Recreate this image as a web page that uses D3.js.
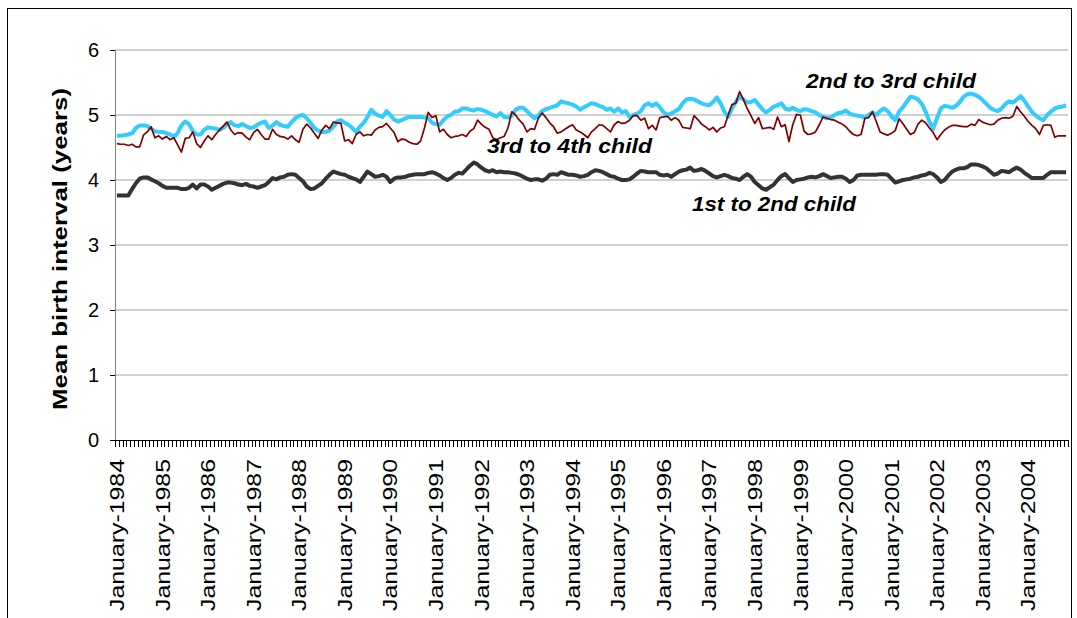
<!DOCTYPE html>
<html>
<head>
<meta charset="utf-8">
<script src="https://cdn.jsdelivr.net/npm/d3@7"></script>
<style>
  html, body { margin: 0; padding: 0; background: #fff; }
  svg { display: block; }
  text { font-family: Arial, "Liberation Sans", sans-serif; }
</style>
</head>
<body>
<svg id="chart" width="1077" height="618"></svg>
<script>
// ---------------- DATA ----------------
const monthNames = ["January","February","March","April","May","June","July","August","September","October","November","December"];
const years = [1984,1985,1986,1987,1988,1989,1990,1991,1992,1993,1994,1995,1996,1997,1998,1999,2000,2001,2002,2003,2004];
const lastMonthIndex2004 = 10; // series end: November 2004

const tickLabels = ["January-1984","January-1985","January-1986","January-1987","January-1988","January-1989","January-1990","January-1991","January-1992","January-1993","January-1994","January-1995","January-1996","January-1997","January-1998","January-1999","January-2000","January-2001","January-2002","January-2003","January-2004"];

const yTicks = [0,1,2,3,4,5,6];

const firstToSecond = [
3.76,3.76,3.76,3.76,3.86,3.95,4.02,4.04,4.04,4.01, 3.98,3.95,3.91,3.88,3.88,3.88,3.88,3.86,3.86,3.88,
3.93,3.87,3.93,3.93,3.90,3.85,3.88,3.91,3.94,3.96, 3.96,3.95,3.93,3.92,3.94,3.91,3.90,3.88,3.90,3.92,
3.97,4.03,4.01,4.04,4.05,4.08,4.09,4.08,4.03,3.98,
3.90,3.86,3.87,3.91,3.95,4.02,4.08,4.13,4.11,4.09, 4.08,4.05,4.03,4.01,3.97,4.05,4.13,4.09,4.05,4.06,
4.08,4.05,3.97,4.02,4.04,4.04,4.05,4.07,4.08,4.09, 4.09,4.09,4.11,4.12,4.10,4.07,4.03,4.00,4.03,4.08,
4.11,4.10,4.16,4.22,4.27,4.24,4.19,4.15,4.13,4.15, 4.12,
4.13,4.12,4.12,4.11,4.10,4.08,4.05,4.02,4.00, 4.01,4.01,3.99,4.02,4.08,4.09,4.08,4.12,4.10,4.08,
4.08,4.07,4.05,4.06,4.08,4.12,4.15,4.14,4.12,4.09, 4.06,4.05,4.02,4.00,4.00,4.01,4.05,4.10,4.14,4.13,
4.12,4.12,4.12,4.08,4.07,4.08,4.05,4.09,4.13,4.15, 4.16,
4.19,4.14,4.15,4.17,4.14,4.10,4.06,4.04,4.06, 4.08,4.06,4.03,4.02,4.00,4.05,4.09,4.05,3.97,3.92,
3.87,3.85,3.89,3.93,4.00,4.06,4.09,4.03,3.97,4.00, 4.01,4.02,4.04,4.05,4.04,4.06,4.09,4.06,4.03,4.04,
4.05,4.05,4.02,3.97,4.00,4.07,4.08,4.08,4.08,4.08, 4.08,
4.09,4.09,4.08,4.02,3.96,3.98,4.00,4.01,4.02, 4.04,4.05,4.07,4.08,4.11,4.09,4.04,3.97,4.00,4.07,
4.13,4.16,4.18,4.18,4.20,4.24,4.24,4.23,4.21,4.18, 4.13,4.08,4.10,4.14,4.13,4.12,4.16,4.19,4.16,4.11,
4.07,4.03,4.03,4.03,4.03,4.08,4.12,4.12,4.12,4.12, 4.12
];

const secondToThird = [
4.68,4.68,4.69,4.70,4.72,4.80,4.84,4.84,4.83,4.79, 4.75,4.74,4.74,4.72,4.70,4.67,4.72,4.84,4.90,4.86,
4.75,4.70,4.70,4.77,4.81,4.80,4.79,4.77,4.80,4.86, 4.89,4.84,4.83,4.86,4.83,4.80,4.81,4.85,4.88,4.90,
4.80,4.84,4.89,4.85,4.83,4.82,4.89,4.95,4.99,5.00,
4.95,4.88,4.80,4.76,4.74,4.74,4.76,4.82,4.90,4.92, 4.88,4.85,4.80,4.74,4.82,4.88,4.97,5.08,5.02,4.99,
4.97,5.06,5.00,4.93,4.90,4.92,4.95,4.97,4.97,4.97, 4.97,4.96,4.95,4.88,4.86,4.85,4.92,4.98,5.00,5.05,
5.06,5.10,5.10,5.08,5.07,5.09,5.08,5.06,5.03,5.00, 4.98,
5.03,4.97,4.96,4.99,5.08,5.11,5.11,5.06,5.00, 4.95,4.99,5.06,5.09,5.11,5.13,5.15,5.21,5.19,5.18,
5.16,5.13,5.08,5.12,5.15,5.18,5.17,5.14,5.12,5.08, 5.10,5.05,5.10,5.04,5.06,4.97,5.00,5.02,5.06,5.15,
5.18,5.14,5.18,5.12,5.04,5.00,5.02,5.06,5.09,5.18, 5.24,
5.25,5.24,5.21,5.18,5.16,5.15,5.20,5.27,5.18, 5.05,4.97,5.10,5.20,5.28,5.24,5.19,5.20,5.23,5.16,
5.09,5.04,5.08,5.13,5.15,5.18,5.10,5.08,5.11,5.08, 5.06,5.09,5.08,5.06,5.04,5.00,4.97,4.95,4.96,5.00,
5.03,5.04,5.07,5.02,5.00,4.99,4.98,4.96,5.00,5.04, 5.00,
5.06,5.10,5.06,4.98,4.92,5.05,5.12,5.20,5.28, 5.27,5.24,5.17,5.05,4.90,4.79,4.95,5.10,5.14,5.13,
5.11,5.14,5.20,5.28,5.32,5.33,5.31,5.28,5.23,5.17, 5.11,5.08,5.06,5.10,5.17,5.21,5.19,5.24,5.29,5.22,
5.13,5.05,4.99,4.95,4.92,5.00,5.05,5.10,5.12,5.13, 5.15
];

const thirdToFourth = [
4.56,4.55,4.55,4.53,4.55,4.51,4.51,4.69,4.74,4.82, 4.65,4.68,4.63,4.67,4.62,4.65,4.54,4.43,4.64,4.65,
4.74,4.56,4.50,4.60,4.68,4.62,4.70,4.77,4.83,4.89, 4.77,4.70,4.73,4.72,4.66,4.62,4.73,4.78,4.70,4.63,
4.63,4.78,4.70,4.67,4.66,4.63,4.68,4.62,4.58,4.78,
4.86,4.80,4.72,4.64,4.77,4.84,4.79,4.89,4.88,4.87, 4.60,4.62,4.56,4.70,4.74,4.68,4.70,4.69,4.77,4.81,
4.82,4.87,4.80,4.73,4.59,4.63,4.62,4.58,4.56,4.55, 4.60,4.80,5.04,4.96,4.99,4.74,4.78,4.70,4.65,4.67,
4.68,4.70,4.67,4.75,4.79,4.92,4.86,4.81,4.78,4.65, 4.62,
4.65,4.67,4.80,5.05,5.00,4.92,4.86,4.74,4.79, 4.78,4.95,5.03,4.96,4.88,4.82,4.72,4.74,4.78,4.82,
4.85,4.77,4.74,4.70,4.65,4.74,4.79,4.85,4.84,4.79, 4.74,4.85,4.90,4.87,4.88,4.92,4.99,4.99,4.92,4.95,
4.79,4.84,4.77,4.96,4.97,4.98,4.92,4.96,4.92,4.81, 4.80,
4.79,4.99,4.93,4.86,4.82,4.77,4.81,4.74,4.80, 4.82,5.00,5.16,5.18,5.36,5.24,5.10,4.99,4.87,4.96,
4.79,4.80,4.81,4.78,4.97,4.82,4.85,4.59,4.85,5.01, 5.00,4.75,4.70,4.71,4.74,4.85,4.97,4.95,4.93,4.92,
4.89,4.86,4.82,4.75,4.70,4.68,4.70,4.95,4.96,5.05, 4.90,
4.74,4.71,4.69,4.72,4.76,4.94,4.87,4.78,4.70, 4.73,4.86,4.92,4.88,4.80,4.73,4.62,4.70,4.77,4.81,
4.84,4.84,4.83,4.82,4.82,4.86,4.84,4.93,4.89,4.87, 4.85,4.86,4.92,4.95,4.96,4.95,4.98,5.13,5.05,4.98,
4.90,4.84,4.79,4.70,4.84,4.85,4.84,4.66,4.68,4.68, 4.68
];

const seriesNames = ["1st to 2nd child", "2nd to 3rd child", "3rd to 4th child"];
const seriesColors = ["#333333", "#33ccff", "#800000"];

// categories (month-year)
const categories = [];
years.forEach(yr => monthNames.forEach((m, mi) => {
  if (yr < 2004 || mi <= lastMonthIndex2004) categories.push(m + "-" + yr);
}));

// ---------------- CHART ----------------
const svg = d3.select("#chart");
const plot = {left: 115, right: 1068, top: 50, bottom: 440};

// outer frame
svg.append("rect").attr("x", 7.5).attr("y", 8.5).attr("width", 1064).attr("height", 700)
  .attr("fill", "#fff").attr("stroke", "#000").attr("stroke-width", 1);

const x = d3.scaleBand().domain(categories).range([plot.left, plot.right]).padding(0);
const y = d3.scaleLinear().domain([0, 6]).range([plot.bottom, plot.top]);
const cx = c => x(c) + x.bandwidth() / 2;

// gridlines
svg.append("g").selectAll("line").data(yTicks.filter(d => d > 0)).join("line")
  .attr("x1", plot.left).attr("x2", plot.right)
  .attr("y1", d => y(d)).attr("y2", d => y(d))
  .attr("stroke", "#c0c0c0").attr("stroke-width", 1.6);

// y axis
const yAxis = svg.append("g").attr("transform", `translate(${plot.left},0)`)
  .call(d3.axisLeft(y).tickValues(yTicks).tickSize(5).tickPadding(11).tickFormat(d3.format("d")));
yAxis.select(".domain").attr("stroke", "#808080");
yAxis.selectAll(".tick line").attr("stroke", "#000");
yAxis.selectAll("text").attr("font-size", 20).attr("fill", "#000")
  .attr("font-family", "Arial, 'Liberation Sans', sans-serif");

// x axis line + monthly ticks at category boundaries
const xg = svg.append("g");
xg.append("line").attr("x1", plot.left).attr("x2", plot.right)
  .attr("y1", plot.bottom + 0.5).attr("y2", plot.bottom + 0.5).attr("stroke", "#000");
const boundaries = categories.map(c => x(c)).concat([plot.right]);
xg.selectAll("line.mt").data(boundaries).join("line").attr("class", "mt")
  .attr("x1", d => Math.round(d) + 0.5).attr("x2", d => Math.round(d) + 0.5)
  .attr("y1", plot.bottom).attr("y2", plot.bottom + 7)
  .attr("stroke", "#000").attr("stroke-width", 1);

// x labels
const labelG = svg.append("g").attr("transform", `translate(0,${plot.bottom})`)
  .call(d3.axisBottom(x).tickValues(tickLabels).tickSize(0).tickPadding(0));
labelG.select(".domain").remove();
labelG.selectAll(".tick text")
  .attr("font-size", 20).attr("fill", "#000")
  .attr("font-family", "Arial, 'Liberation Sans', sans-serif")
  .attr("text-anchor", "end")
  .attr("transform", "translate(0,19) rotate(-90)")
  .attr("x", 0).attr("y", 0).attr("dy", "0.36em")
  .attr("textLength", 152).attr("lengthAdjust", "spacingAndGlyphs");

// y axis title
svg.append("text")
  .attr("transform", "translate(67,249) rotate(-90)")
  .attr("text-anchor", "middle")
  .attr("font-size", 21).attr("font-weight", "bold").attr("fill", "#000")
  .attr("textLength", 322).attr("lengthAdjust", "spacingAndGlyphs")
  .text("Mean birth interval (years)");

// lines
const allSeries = [firstToSecond, secondToThird, thirdToFourth];
const widths = [4, 4, 1.7];
const line = d3.line().x((d, i) => cx(categories[i])).y(d => y(d));
allSeries.forEach((s, k) => {
  svg.append("path").datum(s)
    .attr("fill", "none").attr("stroke", seriesColors[k])
    .attr("stroke-width", widths[k]).attr("stroke-linejoin", "round")
    .attr("d", line);
});

// series annotations
const notes = [
  {name: seriesNames[1], x: 806, y: 88, len: 170},
  {name: seriesNames[2], x: 487, y: 153, len: 165},
  {name: seriesNames[0], x: 692, y: 211, len: 164}
];
svg.append("g").selectAll("text").data(notes).join("text")
  .attr("x", d => d.x).attr("y", d => d.y)
  .attr("font-size", 20).attr("font-weight", "bold").attr("font-style", "italic")
  .attr("fill", "#000")
  .attr("textLength", d => d.len).attr("lengthAdjust", "spacingAndGlyphs")
  .text(d => d.name);
</script>
</body>
</html>
